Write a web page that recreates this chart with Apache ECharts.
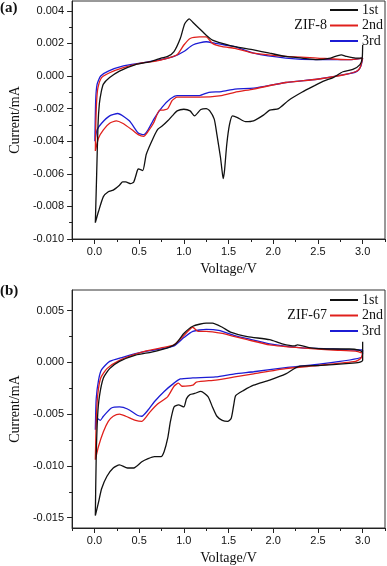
<!DOCTYPE html>
<html><head><meta charset="utf-8">
<script src="https://cdn.jsdelivr.net/npm/echarts@6/dist/echarts.min.js"></script>
<style>html,body{margin:0;padding:0;background:#fff}#c{width:387px;height:566px}</style>
</head><body><div id="c"></div>
<script>
// ---- Data: [Voltage (V), Current (mA)] along each CV sweep ----
const cycleNames = ['1st', '2nd', '3rd'];
const xTicks = [0.0, 0.5, 1.0, 1.5, 2.0, 2.5, 3.0];
const xMinorTicks = [-0.25, 0.25, 0.75, 1.25, 1.75, 2.25, 2.75, 3.25];
const yTicksA = [-0.010, -0.008, -0.006, -0.004, -0.002, 0.000, 0.002, 0.004];
const yMinorTicksA = [-0.009, -0.007, -0.005, -0.003, -0.001, 0.001, 0.003];
const yTicksB = [-0.015, -0.010, -0.005, 0.000, 0.005];
const yMinorTicksB = [-0.0125, -0.0075, -0.0025, 0.0025];

const zif8_1st = [[3.0,0.0019],[2.995,0.0011],[2.97,0.0007],[2.89,0.0004],[2.78,0.00026],[2.67,-0.0001],[2.57,-0.0003],[2.46,-0.0006],[2.32,-0.0010],[2.17,-0.0015],[2.06,-0.0020],[1.96,-0.0021],[1.89,-0.0024],[1.78,-0.00275],[1.69,-0.0028],[1.60,-0.00255],[1.545,-0.00245],[1.51,-0.0030],[1.48,-0.0042],[1.455,-0.0058],[1.44,-0.0063],[1.425,-0.0057],[1.41,-0.0050],[1.37,-0.0036],[1.34,-0.00265],[1.29,-0.00214],[1.25,-0.0020],[1.19,-0.00206],[1.12,-0.00245],[1.07,-0.00214],[1.00,-0.00204],[0.925,-0.00214],[0.87,-0.00245],[0.82,-0.00275],[0.76,-0.00306],[0.71,-0.00326],[0.66,-0.00377],[0.58,-0.0048],[0.54,-0.0058],[0.49,-0.0057],[0.48,-0.0058],[0.44,-0.0065],[0.405,-0.0066],[0.35,-0.0065],[0.315,-0.0065],[0.28,-0.0067],[0.21,-0.0070],[0.155,-0.0071],[0.10,-0.0074],[0.046,-0.0083],[0.01,-0.0090],[0.025,-0.0060],[0.04,-0.0030],[0.055,-0.0017],[0.075,-0.0010],[0.10,-0.0005],[0.17,-0.0001],[0.28,0.0003],[0.46,0.0007],[0.64,0.0009],[0.745,0.0011],[0.82,0.0012],[0.89,0.0015],[0.96,0.0023],[1.01,0.0032],[1.06,0.0035],[1.10,0.0033],[1.175,0.0029],[1.25,0.0025],[1.32,0.0022],[1.43,0.0020],[1.57,0.0018],[1.78,0.0016],[1.96,0.0014],[2.14,0.0012],[2.32,0.0011],[2.49,0.0010],[2.64,0.0011],[2.76,0.0013],[2.82,0.0012],[2.92,0.0011],[3.0,0.0011]];
const zif8_2nd = [[3.0,0.0011],[2.97,0.0005],[2.92,0.00026],[2.78,0.00006],[2.49,-0.0002],[2.14,-0.0004],[1.78,-0.0008],[1.57,-0.0010],[1.42,-0.0012],[1.175,-0.0013],[1.03,-0.0013],[0.925,-0.0013],[0.87,-0.0015],[0.82,-0.0020],[0.76,-0.0021],[0.73,-0.0021],[0.66,-0.0029],[0.60,-0.0034],[0.55,-0.0037],[0.49,-0.0036],[0.42,-0.0033],[0.315,-0.0029],[0.245,-0.00275],[0.17,-0.0029],[0.10,-0.0033],[0.046,-0.0038],[0.01,-0.0046],[0.015,-0.0030],[0.025,-0.0015],[0.04,-0.0007],[0.08,-0.0001],[0.17,0.0002],[0.315,0.0005],[0.53,0.0008],[0.67,0.0009],[0.82,0.0011],[0.925,0.0013],[1.0,0.0019],[1.07,0.0023],[1.175,0.0024],[1.25,0.0024],[1.32,0.0020],[1.43,0.0018],[1.57,0.0017],[1.78,0.0014],[2.14,0.0012],[2.49,0.0011],[2.85,0.0010],[3.0,0.0011]];
const zif8_3rd = [[3.0,0.0011],[2.98,0.0006],[2.94,0.0003],[2.85,0.00014],[2.49,-0.0002],[2.14,-0.0004],[1.78,-0.00075],[1.57,-0.0008],[1.42,-0.00096],[1.28,-0.0010],[1.175,-0.0012],[0.925,-0.0012],[0.85,-0.0014],[0.76,-0.0019],[0.67,-0.0026],[0.60,-0.0033],[0.55,-0.0036],[0.49,-0.0035],[0.39,-0.00275],[0.26,-0.0023],[0.17,-0.00245],[0.08,-0.0029],[0.03,-0.0033],[0.005,-0.0040],[0.014,-0.0015],[0.03,-0.0005],[0.07,0.0],[0.155,0.0003],[0.315,0.0006],[0.53,0.0008],[0.745,0.0010],[0.89,0.0012],[1.0,0.0015],[1.10,0.0019],[1.25,0.0021],[1.355,0.0020],[1.46,0.0019],[1.57,0.0018],[1.78,0.0014],[2.14,0.0011],[2.49,0.0010],[2.85,0.0010],[3.0,0.0011]];

const zif67_1st = [[3.0,0.0020],[3.0,0.0002],[2.96,0.0],[2.85,-0.0001],[2.49,-0.0003],[2.28,-0.0004],[2.14,-0.0011],[1.96,-0.0017],[1.78,-0.0022],[1.67,-0.0027],[1.58,-0.0032],[1.56,-0.0040],[1.53,-0.0054],[1.49,-0.0057],[1.43,-0.0056],[1.37,-0.0052],[1.32,-0.0043],[1.27,-0.0033],[1.19,-0.0028],[1.12,-0.0030],[1.07,-0.0031],[1.03,-0.0035],[1.00,-0.0043],[0.94,-0.0041],[0.89,-0.0043],[0.85,-0.0057],[0.82,-0.0073],[0.78,-0.0086],[0.745,-0.0091],[0.67,-0.0091],[0.60,-0.0093],[0.53,-0.0096],[0.44,-0.0102],[0.37,-0.0102],[0.28,-0.0099],[0.21,-0.0102],[0.14,-0.0110],[0.08,-0.0122],[0.046,-0.0135],[0.01,-0.0148],[0.02,-0.0090],[0.036,-0.0051],[0.057,-0.0032],[0.10,-0.0015],[0.17,-0.0006],[0.28,0.0001],[0.46,0.0007],[0.64,0.0010],[0.82,0.0014],[0.91,0.0018],[1.0,0.0028],[1.10,0.0035],[1.25,0.0038],[1.32,0.0038],[1.43,0.0034],[1.53,0.0029],[1.71,0.0025],[1.96,0.0022],[2.10,0.0018],[2.24,0.0016],[2.27,0.0017],[2.42,0.0014],[2.60,0.0013],[2.85,0.0013],[2.96,0.0012],[3.0,0.0010]];
const zif67_2nd = [[3.0,0.0009],[2.98,0.0004],[2.92,0.0001],[2.49,-0.0003],[2.14,-0.0006],[1.78,-0.0011],[1.57,-0.0014],[1.355,-0.0017],[1.14,-0.0019],[1.10,-0.0022],[0.98,-0.0023],[0.94,-0.0020],[0.89,-0.0023],[0.82,-0.0033],[0.71,-0.0040],[0.62,-0.0048],[0.53,-0.0057],[0.46,-0.0056],[0.35,-0.0052],[0.28,-0.0050],[0.21,-0.0052],[0.155,-0.0057],[0.10,-0.0067],[0.046,-0.0081],[0.01,-0.0094],[0.02,-0.0057],[0.036,-0.0032],[0.07,-0.0015],[0.14,-0.0006],[0.28,0.0002],[0.53,0.0010],[0.745,0.0014],[0.89,0.0017],[1.0,0.0026],[1.10,0.0034],[1.16,0.0030],[1.25,0.0030],[1.43,0.0028],[1.57,0.0025],[1.71,0.0022],[1.96,0.0017],[2.32,0.0014],[2.67,0.0012],[2.92,0.0011],[3.0,0.0009]];
const zif67_3rd = [[3.0,0.0012],[2.99,0.0005],[2.49,-0.0002],[2.14,-0.0005],[1.78,-0.0009],[1.57,-0.0011],[1.355,-0.0014],[1.10,-0.0015],[0.96,-0.0016],[0.89,-0.0020],[0.78,-0.0028],[0.67,-0.0038],[0.60,-0.0046],[0.53,-0.0052],[0.48,-0.0051],[0.37,-0.0045],[0.28,-0.0043],[0.19,-0.0044],[0.10,-0.0052],[0.065,-0.0056],[0.03,-0.0054],[0.01,-0.0065],[0.02,-0.0035],[0.046,-0.0017],[0.08,-0.0007],[0.17,0.0001],[0.315,0.0005],[0.53,0.0010],[0.745,0.0013],[0.89,0.0016],[1.0,0.0024],[1.10,0.0030],[1.25,0.0032],[1.39,0.0031],[1.57,0.0026],[1.71,0.0023],[1.96,0.0018],[2.32,0.0014],[2.67,0.0013],[2.92,0.0012],[3.0,0.0012]];

// ---- Styling / layout ----
const colors = ['#111111', '#e0201c', '#1c1cd4'];
const SANS = 'Arial, "Liberation Sans", sans-serif';
const SERIF = '"Times New Roman", "Liberation Serif", serif';
const AX = '#222';
const grids = [
  { left: 60, width: 325, top: 1, height: 238 },
  { left: 60, width: 325, top: 290, height: 238 }
];
const yRanges = [[-0.010, 0.0046], [-0.016, 0.007]];

function mainX(gi) {
  return {
    type: 'value', gridIndex: gi, position: 'bottom', min: -0.25, max: 3.25,
    name: 'Voltage/V', nameLocation: 'middle', nameGap: 23,
    nameTextStyle: { fontFamily: SERIF, fontSize: 14, color: '#111' },
    axisLine: { show: true, onZero: false, lineStyle: { color: AX, width: 1 } },
    axisTick: { show: true, inside: false, length: 5, customValues: xTicks, lineStyle: { color: AX } },
    axisLabel: { show: true, customValues: xTicks, margin: 7, fontFamily: SANS, fontSize: 11, color: '#111',
      formatter: v => v.toFixed(1) },
    splitLine: { show: false }
  };
}
function minorX(gi) {
  return {
    type: 'value', gridIndex: gi, position: 'bottom', min: -0.25, max: 3.25,
    axisLine: { show: false, onZero: false },
    axisTick: { show: true, inside: false, length: 3, customValues: xMinorTicks, lineStyle: { color: AX } },
    axisLabel: { show: false }, splitLine: { show: false }
  };
}
function mainY(gi, ticks) {
  return {
    type: 'value', gridIndex: gi, position: 'left', min: yRanges[gi][0], max: yRanges[gi][1],
    name: 'Current/mA', nameLocation: 'middle', nameGap: 45,
    nameTextStyle: { fontFamily: SERIF, fontSize: 14, color: '#111' },
    axisLine: { show: true, onZero: false, lineStyle: { color: AX, width: 1 } },
    axisTick: { show: true, inside: false, length: 5, customValues: ticks, lineStyle: { color: AX } },
    axisLabel: { show: true, customValues: ticks, margin: 8, fontFamily: SANS, fontSize: 11, color: '#111',
      formatter: v => v.toFixed(3) },
    splitLine: { show: false }
  };
}
function minorY(gi, ticks) {
  return {
    type: 'value', gridIndex: gi, position: 'left', min: yRanges[gi][0], max: yRanges[gi][1],
    axisLine: { show: false, onZero: false },
    axisTick: { show: true, inside: false, length: 3, customValues: ticks, lineStyle: { color: AX } },
    axisLabel: { show: false }, splitLine: { show: false }
  };
}

const panels = [[zif8_1st, zif8_2nd, zif8_3rd], [zif67_1st, zif67_2nd, zif67_3rd]];
const series = [];
panels.forEach((sets, gi) => {
  sets.forEach((d, k) => {
    series.push({
      type: 'line', name: cycleNames[k], xAxisIndex: gi * 2, yAxisIndex: gi * 2,
      data: d, showSymbol: false, symbol: 'none', smooth: 0.2, color: colors[k],
      lineStyle: { color: colors[k], width: 1.3 }, z: 3 - k + 2, animation: false
    });
  });
});

function legend(top) {
  return {
    orient: 'vertical', left: 330, top: top, padding: 0, itemGap: 1.5,
    itemWidth: 28, itemHeight: 2, icon: 'rect', selectedMode: false,
    data: cycleNames,
    textStyle: { fontFamily: SERIF, fontSize: 14, color: '#111', padding: [0, 0, 0, -1] }
  };
}

const option = {
  animation: false,
  backgroundColor: '#fff',
  grid: grids.map(g => Object.assign({ show: true, borderColor: '#333', borderWidth: 1, containLabel: false }, g)),
  xAxis: [mainX(0), minorX(0), mainX(1), minorX(1)],
  yAxis: [mainY(0, yTicksA), minorY(0, yMinorTicksA), mainY(1, yTicksB), minorY(1, yMinorTicksB)],
  legend: [legend(3), legend(293)],
  graphic: [
    { type: 'text', left: 0, top: 1, style: { text: '(a)', font: 'bold 15px ' + SERIF, fill: '#111' } },
    { type: 'text', left: 0, top: 284, style: { text: '(b)', font: 'bold 15px ' + SERIF, fill: '#111' } },
    { type: 'text', right: 387 - 327, top: 18, style: { text: 'ZIF-8', font: '14px ' + SERIF, fill: '#111' } },
    { type: 'text', right: 387 - 327, top: 308, style: { text: 'ZIF-67', font: '14px ' + SERIF, fill: '#111' } }
  ],
  series: series
};
const chart = echarts.init(document.getElementById('c'), null, { renderer: 'canvas' });
chart.setOption(option);
</script>
</body></html>
